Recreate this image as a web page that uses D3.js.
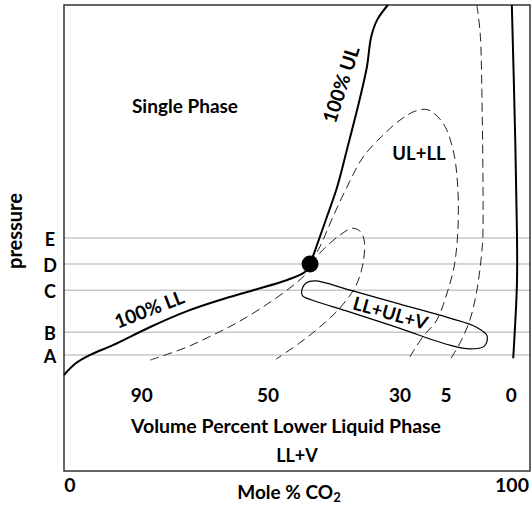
<!DOCTYPE html>
<html>
<head>
<meta charset="utf-8">
<script src="https://cdn.jsdelivr.net/npm/d3@7"></script>
<style>
  body { margin: 0; background: #fff; }
  text { font-family: Lato, "Open Sans", sans-serif; font-weight: 700; fill: #000; }
</style>
</head>
<body>
<div id="chart"></div>
<script>
// Phase diagram sketch: pressure vs mole % CO2 (schematic, arbitrary pressure units 0-100)

const width = 532;
const height = 512;
const frame = { left: 64, right: 530, top: 5, bottom: 471 };

// pressure levels drawn as light grid lines
const levelNames = ["A", "B", "C", "D", "E"];
const levelValues = [24.9, 29.8, 38.8, 44.4, 50.0];

// critical point [mole % CO2, pressure]
const criticalPoint = [52.8, 44.4];

// 100% lower liquid boundary
const ll100 = [[0, 20.6], [2.4, 23.0], [5.6, 24.9], [10.5, 27.0], [18.5, 30.9], [26.4, 34.3],
  [33.5, 36.7], [40.6, 38.8], [47.9, 41.0], [51.7, 42.7], [52.8, 44.4]];

// 100% upper liquid boundary
const ul100 = [[52.8, 44.4], [53.9, 47.4], [56.4, 54.5], [58.6, 60.9], [60.7, 68.9], [62.9, 77.5],
  [65.0, 86.7], [65.9, 93.1], [67.2, 96.8], [69.5, 100]];

// 0% lower liquid (right side, vapour boundary)
const ll0 = [[96.1, 100], [96.8, 72.5], [97.2, 51.1], [97.2, 40.3], [96.4, 24.2]];

// volume percent lower liquid phase contours (dashed)
const vol90 = [[18.5, 23.8], [26.4, 26.6], [32.0, 29.2], [37.1, 31.8], [42.7, 35.2], [48.5, 39.3],
  [51.7, 42.1], [52.8, 44.0]];
const vol50 = [[52.8, 44.4], [56.0, 47.9], [59.2, 50.6], [61.8, 52.1], [63.5, 51.5], [64.4, 49.6],
  [64.2, 44.8], [62.7, 39.9], [59.4, 35.2], [54.9, 30.9], [50.6, 27.5], [45.5, 24.0]];
const vol30 = [[52.8, 44.4], [54.9, 48.1], [57.7, 54.5], [60.7, 60.9], [64.2, 67.4], [68.5, 72.1],
  [72.1, 75.3], [75.3, 77.2], [78.1, 77.5], [81.3, 74.7], [83.5, 68.9], [84.5, 60.9], [84.5, 51.1],
  [83.7, 43.8], [82.2, 38.2], [80.0, 32.4], [77.0, 28.8], [73.8, 23.8]];
const vol5 = [[88.6, 100], [89.3, 94.0], [89.7, 79.6], [89.9, 51.1], [89.7, 47.4], [88.6, 38.8],
  [87.1, 32.4], [85.0, 27.5], [82.8, 23.8]];

// three phase region LL+UL+V (closed loop)
const threePhase = [[51.0, 38.6], [51.9, 40.3], [53.9, 40.8], [61.4, 38.8], [72.1, 35.8], [82.8, 32.8],
  [88.4, 30.9], [90.8, 29.0], [90.2, 26.8], [87.1, 26.2], [82.8, 27.0], [72.1, 30.6], [61.4, 34.1],
  [53.2, 36.7], [51.2, 37.6]];

// labels under the contours
const volLabels = ["90", "50", "30", "5", "0"];
const volLabelX = [16.7, 43.8, 72.1, 82.0, 96.0];

const svg = d3.select("#chart").append("svg")
  .attr("width", width)
  .attr("height", height);

const x = d3.scaleLinear().domain([0, 100]).range([frame.left, frame.right]);
const y = d3.scaleLinear().domain([0, 100]).range([frame.bottom, frame.top]);

const line = d3.line()
  .x(d => x(d[0]))
  .y(d => y(d[1]))
  .curve(d3.curveCatmullRom.alpha(0.5));

// grid lines for the pressure levels
svg.append("g")
  .selectAll("line")
  .data(levelValues)
  .enter()
  .append("line")
  .attr("x1", frame.left)
  .attr("x2", frame.right)
  .attr("y1", d => y(d))
  .attr("y2", d => y(d))
  .attr("stroke", "#c8c8c8")
  .attr("stroke-width", 1.5);

svg.append("g")
  .selectAll("text")
  .data(levelValues)
  .enter()
  .append("text")
  .attr("x", 50)
  .attr("y", d => y(d) + 3)
  .attr("text-anchor", "middle")
  .attr("dominant-baseline", "middle")
  .attr("font-size", 18)
  .text((d, i) => levelNames[i]);

// frame
svg.append("rect")
  .attr("x", frame.left)
  .attr("y", frame.top)
  .attr("width", frame.right - frame.left)
  .attr("height", frame.bottom - frame.top)
  .attr("fill", "none")
  .attr("stroke", "#333")
  .attr("stroke-width", 1.5);

// dashed contours
[vol90, vol50, vol30, vol5].forEach(c => {
  svg.append("path")
    .attr("d", line(c))
    .attr("fill", "none")
    .attr("stroke", "#222")
    .attr("stroke-width", 1)
    .attr("stroke-dasharray", "9,5");
});

// solid boundaries
[ll100, ul100, ll0].forEach(c => {
  svg.append("path")
    .attr("d", line(c))
    .attr("fill", "none")
    .attr("stroke", "#000")
    .attr("stroke-width", 2);
});

// three phase loop
svg.append("path")
  .attr("d", d3.line().x(d => x(d[0])).y(d => y(d[1])).curve(d3.curveCatmullRomClosed.alpha(0.5))(threePhase))
  .attr("fill", "none")
  .attr("stroke", "#000")
  .attr("stroke-width", 1.2);

// critical point
svg.append("circle")
  .attr("cx", x(criticalPoint[0]))
  .attr("cy", y(criticalPoint[1]))
  .attr("r", 8.5)
  .attr("fill", "#000");

// helper for a (rotated) label
function label(txt, cx, cy, size, angle) {
  svg.append("text")
    .attr("transform", `translate(${cx},${cy}) rotate(${angle || 0})`)
    .attr("text-anchor", "middle")
    .attr("dominant-baseline", "middle")
    .attr("font-size", size)
    .text(txt);
}

label("Single Phase", 185, 108, 19);
label("100% UL", 343, 85, 19.5, -72);
label("UL+LL", 419, 155, 18.5);
label("100% LL", 150, 311, 19, -21);
label("LL+UL+V", 390, 315, 18.5, 16);
label("LL+V", 297, 457, 18);
label("Volume Percent Lower Liquid Phase", 286, 428, 19.5);
label("pressure", 17, 231, 20, -90);

// volume percent labels
svg.append("g")
  .selectAll("text")
  .data(volLabels)
  .enter()
  .append("text")
  .attr("x", (d, i) => x(volLabelX[i]))
  .attr("y", 397)
  .attr("text-anchor", "middle")
  .attr("dominant-baseline", "middle")
  .attr("font-size", 19)
  .text(d => d);

// x axis end labels
label("0", 70, 487, 19.5);
label("100", 512, 487, 19.5);

const mole = svg.append("text")
  .attr("x", 289)
  .attr("y", 494)
  .attr("text-anchor", "middle")
  .attr("dominant-baseline", "middle")
  .attr("font-size", 19);
mole.append("tspan").text("Mole % CO");
mole.append("tspan").attr("font-size", 13).attr("dy", 5).text("2");
</script>
</body>
</html>
